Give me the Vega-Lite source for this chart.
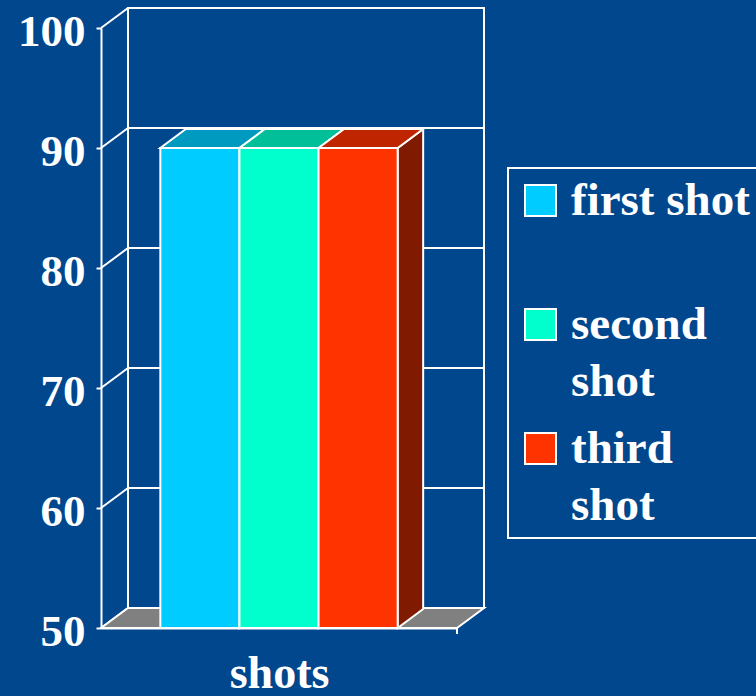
{
  "$schema": "https://vega.github.io/schema/vega-lite/v6.json",
  "width": 356,
  "height": 600,
  "autosize": {"type": "none"},
  "padding": {"left": 101, "top": 28, "right": 299, "bottom": 68},
  "background": "#00478e",
  "datasets": {
    "bars": [
      {"series": "first shot", "value": 90},
      {"series": "second shot", "value": 90},
      {"series": "third shot", "value": 90}
    ],
    "grid": [{"v": 50}, {"v": 60}, {"v": 70}, {"v": 80}, {"v": 90}, {"v": 100}],
    "frame": [{"part": "frame"}]
  },
  "config": {
    "view": {"stroke": null},
    "style": {"guide-label": {"lineHeight": 57}},
    "axis": {
      "domainColor": "white", "domainWidth": 2,
      "tickColor": "white", "tickWidth": 2, "tickSize": 5,
      "labelColor": "white", "labelFont": "Liberation Serif", "labelFontSize": 45, "labelFontWeight": "bold",
      "titleColor": "white", "titleFont": "Liberation Serif", "titleFontSize": 46, "titleFontWeight": "bold",
      "grid": false
    },
    "legend": {
      "strokeColor": "white", "strokeWidth": 2, "padding": 9,
      "symbolType": "square", "symbolSize": 961, "symbolStrokeColor": "white", "symbolStrokeWidth": 2, "symbolOpacity": 1,
      "labelFont": "Liberation Serif", "labelFontSize": 47, "labelFontWeight": "bold", "labelColor": "white",
      "labelOffset": 7, "labelLimit": 400, "rowPadding": 19, "labelBaseline": "middle"
    }
  },
  "resolve": {"scale": {"x": "independent", "fill": "independent"}, "axis": {"x": "independent"}},
  "layer": [
    {
      "data": {"name": "frame"},
      "mark": {"type": "rect", "filled": false, "stroke": "white", "strokeWidth": 2, "opacity": 1,
               "xOffset": 27, "x2Offset": 27, "yOffset": -20, "y2Offset": -20},
      "encoding": {
        "x": {"datum": 0, "type": "quantitative", "scale": {"domain": [0, 1]}, "axis": null},
        "x2": {"datum": 1},
        "y": {"datum": 50, "type": "quantitative", "scale": {"domain": [50, 100], "zero": false, "nice": false}, "axis": {"title": null}},
        "y2": {"datum": 100}
      }
    },
    {
      "data": {"name": "grid"},
      "mark": {"type": "rule", "color": "white", "strokeWidth": 2, "xOffset": 27, "x2Offset": 27, "yOffset": -20},
      "encoding": {
        "x": {"datum": 0, "type": "quantitative", "scale": {"domain": [0, 1]}, "axis": null},
        "x2": {"datum": 1},
        "y": {"field": "v", "type": "quantitative", "axis": {"title": null}}
      }
    },
    {
      "data": {"name": "grid"},
      "mark": {"type": "rule", "color": "white", "strokeWidth": 2, "x2Offset": 27, "y2Offset": -20},
      "encoding": {
        "x": {"datum": 0, "type": "quantitative", "scale": {"domain": [0, 1]}, "axis": null},
        "x2": {"datum": 0},
        "y": {"field": "v", "type": "quantitative", "axis": {"title": null}},
        "y2": {"field": "v"}
      }
    },
    {
      "data": {"name": "frame"},
      "mark": {"type": "point", "filled": true, "opacity": 1, "size": 4,
               "shape": "M0,0L356,0L383,-20L27,-20Z",
               "fill": "#808080", "stroke": "white", "strokeWidth": 2},
      "encoding": {
        "x": {"datum": 0, "type": "quantitative", "scale": {"domain": [0, 1]}, "axis": null},
        "y": {"datum": 50, "type": "quantitative", "axis": {"title": null}}
      }
    },
    {
      "data": {"name": "frame"},
      "mark": {"type": "rule", "color": "white", "strokeWidth": 2, "y2Offset": 6},
      "encoding": {
        "x": {"datum": 1, "type": "quantitative", "scale": {"domain": [0, 1]}, "axis": null},
        "y": {"datum": 50, "type": "quantitative", "axis": {"title": null}},
        "y2": {"datum": 50}
      }
    },
    {
      "data": {"name": "bars"},
      "mark": {"type": "point", "filled": true, "opacity": 1, "size": 4,
               "shape": "M39.56,0L65.06,-19L65.06,461L39.56,480Z",
               "stroke": "white", "strokeWidth": 2},
      "encoding": {
        "x": {"field": "series", "type": "nominal", "scale": {"type": "band", "domain": ["first shot", "second shot", "third shot"], "paddingInner": 0, "paddingOuter": 0.75}, "axis": null},
        "y": {"field": "value", "type": "quantitative", "axis": {"title": null}},
        "fill": {"field": "series", "type": "nominal", "scale": {"domain": ["first shot", "second shot", "third shot"], "range": ["#006680", "#008066", "#801a00"]}, "legend": null}
      }
    },
    {
      "data": {"name": "bars"},
      "mark": {"type": "point", "filled": true, "opacity": 1, "size": 4,
               "shape": "M-39.56,0L39.56,0L65.06,-19L-14.06,-19Z",
               "stroke": "white", "strokeWidth": 2},
      "encoding": {
        "x": {"field": "series", "type": "nominal", "scale": {"type": "band", "domain": ["first shot", "second shot", "third shot"], "paddingInner": 0, "paddingOuter": 0.75}, "axis": null},
        "y": {"field": "value", "type": "quantitative", "axis": {"title": null}},
        "fill": {"field": "series", "type": "nominal", "scale": {"domain": ["first shot", "second shot", "third shot"], "range": ["#0099bf", "#00bf99", "#bf2600"]}, "legend": null}
      }
    },
    {
      "data": {"name": "bars"},
      "mark": {"type": "bar", "stroke": "white", "strokeWidth": 2, "opacity": 1},
      "encoding": {
        "x": {"field": "series", "type": "nominal",
              "scale": {"type": "band", "domain": ["first shot", "second shot", "third shot"], "paddingInner": 0, "paddingOuter": 0.75},
              "axis": {"title": "shots", "labels": false, "ticks": false, "titlePadding": 23}},
        "y": {"field": "value", "type": "quantitative", "axis": {"title": null, "values": [50, 60, 70, 80, 90, 100], "labelPadding": 11, "labelOffset": 3}},
        "y2": {"datum": 50},
        "color": {"field": "series", "type": "nominal",
                  "scale": {"domain": ["first shot", "second shot", "third shot"], "range": ["#00ccff", "#00ffcc", "#ff3300"]},
                  "legend": {"orient": "none", "legendX": 407, "legendY": 140, "title": null,
                             "labelExpr": "datum.label == 'first shot' ? ['first shot', ''] : split(datum.label, ' ')"}}
      }
    }
  ]
}
